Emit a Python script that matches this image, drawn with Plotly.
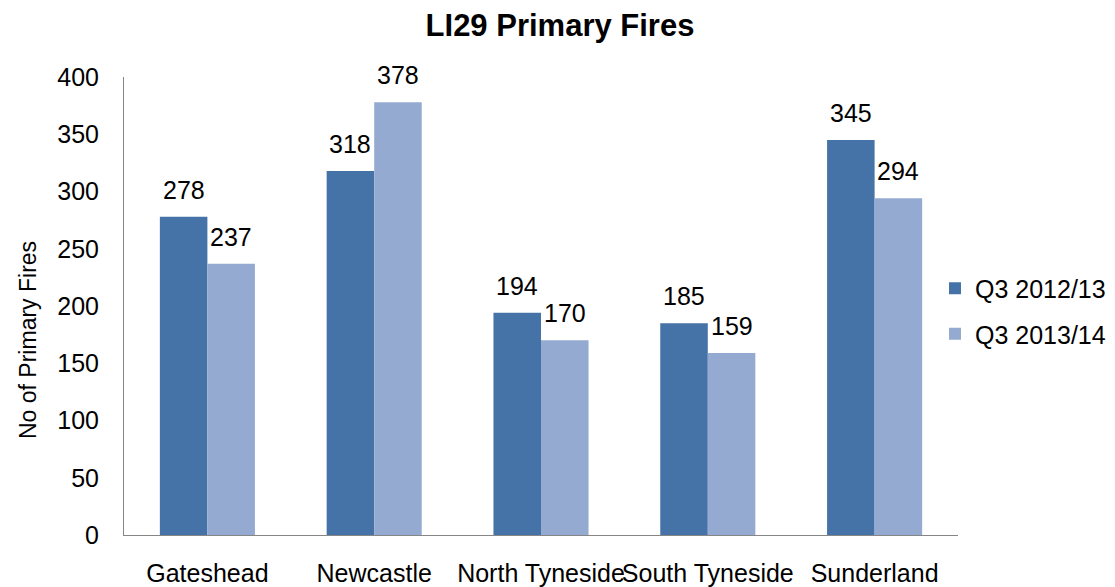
import plotly.graph_objects as go

categories = ["Gateshead", "Newcastle", "North Tyneside", "South Tyneside", "Sunderland"]
q3_2012_13 = [278, 318, 194, 185, 345]
q3_2013_14 = [237, 378, 170, 159, 294]
series_names = ["Q3 2012/13", "Q3 2013/14"]
y_ticks = [0, 50, 100, 150, 200, 250, 300, 350, 400]

dark = "#4673A7"
light = "#94AAD1"
FONT = "Liberation Sans, Arial, sans-serif"

fig = go.Figure()
fig.add_trace(go.Bar(x=categories, y=q3_2012_13, name=series_names[0],
                     marker=dict(color=dark, line=dict(width=0)), legendgroup="a"))
fig.add_trace(go.Bar(x=categories, y=q3_2013_14, name=series_names[1],
                     marker=dict(color=light, line=dict(width=0)), legendgroup="b"))

# page body has an 8px margin, so the figure is drawn 8px in from top-left
W, H = 1107, 579
L, R, T, B = 116, 157, 69, 52
plot_w = W - L - R
plot_h = H - T - B
cat_px = plot_w / len(categories)
bargap = 0.43
bar_px = cat_px * (1 - bargap) / 2

annotations = []
for i, c in enumerate(categories):
    for vals, sh in ((q3_2012_13, -bar_px / 2), (q3_2013_14, bar_px / 2)):
        annotations.append(dict(x=c, y=vals[i], xref="x", yref="y", text=str(vals[i]),
                                showarrow=False, xshift=sh, yshift=27, yanchor="middle",
                                font=dict(size=25, color="#000", family=FONT)))

annotations.append(dict(x=(20 - L) / plot_w, y=(H - B - 332) / plot_h, xref="paper", yref="paper",
                        text="No of Primary Fires", textangle=-90, showarrow=False,
                        xanchor="center", yanchor="middle",
                        font=dict(size=23, color="#000", family=FONT)))

fig.update_layout(
    width=W, height=H,
    margin=dict(l=L, r=R, t=T, b=B, pad=0, autoexpand=False),
    paper_bgcolor="white", plot_bgcolor="white",
    barmode="group", bargap=bargap, bargroupgap=0,
    font=dict(family=FONT, size=25, color="#000"),
    title=dict(text="<b>LI29 Primary Fires</b>", x=552 / W, xref="container",
               y=1 - 17 / H, yanchor="middle", xanchor="center",
               font=dict(size=31, color="#000", family=FONT)),
    showlegend=True,
    legend=dict(x=(927 - L) / plot_w, xanchor="left", y=(H - B - 303) / plot_h, yanchor="middle",
                font=dict(size=25, family=FONT, color="#000"), tracegroupgap=10,
                itemwidth=30, bgcolor="rgba(0,0,0,0)"),
    annotations=annotations,
)
fig.update_xaxes(showline=True, linecolor="#868686", linewidth=1, showgrid=False,
                 ticks="", ticklabelstandoff=16, tickfont=dict(size=25), zeroline=False,
                 tickangle=0, automargin=False)
fig.update_yaxes(range=[0, 400], tickvals=y_ticks, showline=True, linecolor="#868686", linewidth=1,
                 showgrid=False, zeroline=False, ticks="", ticklabelstandoff=19,
                 tickfont=dict(size=25), automargin=False)

fig.write_html("out.html")
